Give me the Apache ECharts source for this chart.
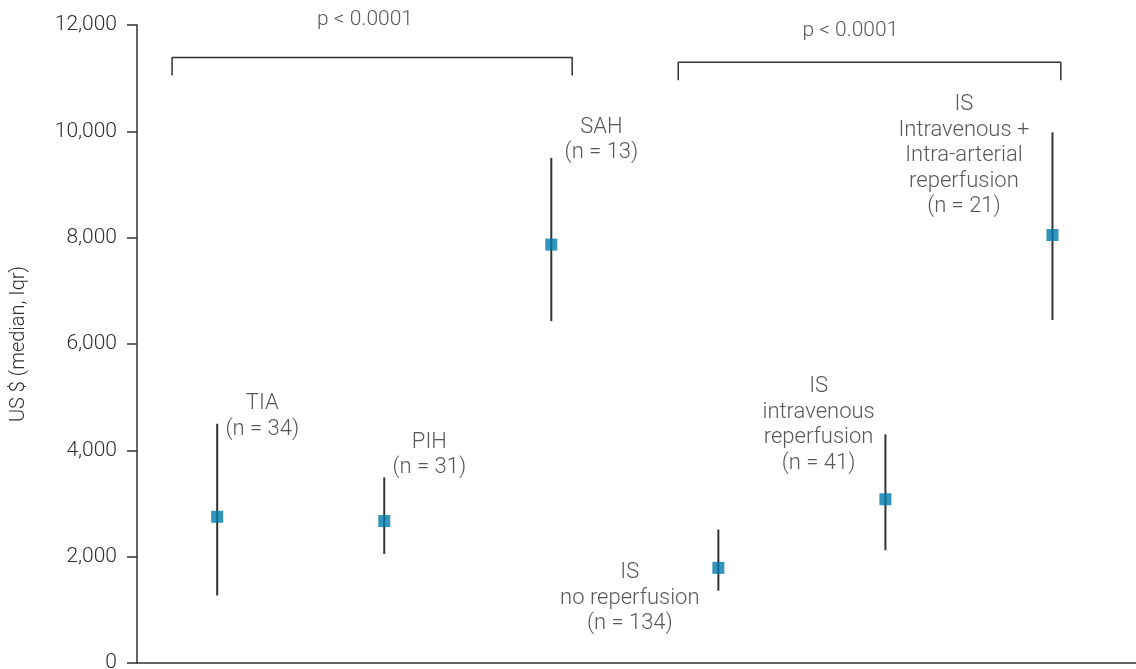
<!DOCTYPE html>
<html>
<head>
<meta charset="utf-8">
<script src="https://cdn.jsdelivr.net/npm/echarts@6/dist/echarts.min.js"></script>
<style>
  html, body { margin: 0; padding: 0; background: #fff; }
  #chart { width: 1136px; height: 669px; }
</style>
</head>
<body>
<div id="chart"></div>
<script>
// groups, left to right
const groups = ['TIA', 'PIH', 'SAH', 'IS no reperfusion', 'IS intravenous reperfusion', 'IS Intravenous + Intra-arterial reperfusion']
const groupText = [
  'TIA\n(n = 34)',
  'PIH\n(n = 31)',
  'SAH\n(n = 13)',
  'IS\nno reperfusion\n(n = 134)',
  'IS\nintravenous\nreperfusion\n(n = 41)',
  'IS\nIntravenous +\nIntra-arterial\nreperfusion\n(n = 21)'
]
const medians = [2750, 2670, 7870, 1790, 3080, 8050]
const lower = [1270, 2050, 6430, 1360, 2120, 6450]
const upper = [4500, 3490, 9500, 2510, 4300, 9980]
const yTicks = [0, 2000, 4000, 6000, 8000, 10000, 12000]

// where the group labels and p-values sit (data coords)
const labelAt = [[1.27, 4640], [2.27, 3910], [3.30, 9840], [3.47, 1220], [4.60, 4480], [5.47, 9540]]
const bracketLeft = [[0.73, 11050], [0.73, 11390], [3.125, 11390], [3.125, 11050]]
const bracketRight = [[3.76, 10960], [3.76, 11300], [6.05, 11300], [6.05, 10960]]
const pText = [[1.885, 12090, 'p < 0.0001'], [4.79, 11890, 'p < 0.0001']]

const ink = '#333'
const txt = '#2e2e2e'
const font = 'Roboto'

const chart = echarts.init(document.getElementById('chart'))

const option = {
  animation: false,
  textStyle: { fontFamily: font },
  grid: { left: 137, right: 0, top: 25, bottom: 6, outerBoundsMode: 'none' },
  xAxis: {
    type: 'value',
    min: 0.52,
    max: 6.5,
    axisLine: { show: true, lineStyle: { color: ink, width: 1.5 } },
    axisTick: { show: false },
    axisLabel: { show: false },
    splitLine: { show: false }
  },
  yAxis: {
    type: 'value',
    min: 0,
    max: 12000,
    interval: 2000,
    name: 'US $ (median, Iqr)',
    nameLocation: 'middle',
    nameGap: 108,
    nameTextStyle: { fontSize: 20, color: txt, fontFamily: font, fontWeight: 300 },
    axisLine: { show: true, lineStyle: { color: ink, width: 1.5 } },
    axisTick: { show: true, length: 10, lineStyle: { color: ink, width: 1.5 } },
    axisLabel: {
      margin: 20,
      fontSize: 21,
      color: txt,
      fontWeight: 300,
      formatter: v => yTicks.includes(v) ? v.toLocaleString('en-US') : ''
    },
    splitLine: { show: false }
  },
  series: [
    {
      // IQR whiskers
      type: 'custom',
      silent: true,
      data: groups.map((g, i) => [i + 1, lower[i], upper[i]]),
      renderItem: function (params, api) {
        const hi = api.coord([api.value(0), api.value(2)])
        const lo = api.coord([api.value(0), api.value(1)])
        return {
          type: 'line',
          shape: { x1: hi[0], y1: hi[1], x2: lo[0], y2: lo[1] },
          style: { stroke: ink, lineWidth: 2 }
        }
      }
    },
    {
      type: 'scatter',
      symbol: 'rect',
      symbolSize: 12,
      itemStyle: { color: '#0079ab' },
      data: medians.map((m, i) => [i + 1, m])
    },
    {
      type: 'scatter',
      symbolSize: 0,
      silent: true,
      clip: false,
      data: labelAt.map((p, i) => [p[0], p[1], groupText[i]]),
      label: {
        show: true,
        position: 'inside',
        formatter: p => p.value[2],
        color: txt,
        fontSize: 22,
        fontWeight: 300,
        lineHeight: 25.5,
        align: 'center',
        verticalAlign: 'middle'
      }
    },
    {
      type: 'line',
      data: bracketLeft,
      symbol: 'none',
      silent: true,
      clip: false,
      lineStyle: { color: ink, width: 1.5 }
    },
    {
      type: 'line',
      data: bracketRight,
      symbol: 'none',
      silent: true,
      clip: false,
      lineStyle: { color: ink, width: 1.5 }
    },
    {
      type: 'scatter',
      symbolSize: 0,
      silent: true,
      clip: false,
      data: pText,
      label: {
        show: true,
        position: 'inside',
        formatter: p => p.value[2],
        color: txt,
        fontSize: 21,
        fontWeight: 300
      }
    }
  ]
}

chart.setOption(option)
</script>
</body>
</html>
